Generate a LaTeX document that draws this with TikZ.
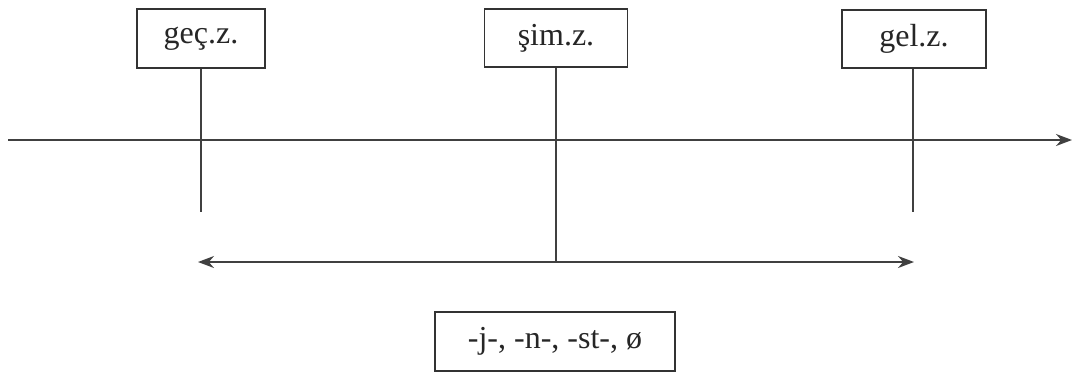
\documentclass[tikz,border=0pt]{standalone}
\usepackage{fontspec}
\setmainfont{Liberation Serif}
\usetikzlibrary{arrows.meta}
\begin{document}
\begin{tikzpicture}[x=1pt,y=-1pt,
  lbl/.style={draw=black!80, line width=1.6pt, inner sep=0pt, font=\fontsize{32}{34}\selectfont, text=black!85},
  ln/.style={draw=black!75, line width=1.8pt}]
\useasboundingbox (0,0) rectangle (1077,373);
\node[lbl, minimum width=128pt, minimum height=59pt] (past) at (201,38.5) {geç.z.};
\node[lbl, minimum width=143pt, minimum height=58pt] (pres) at (556,38) {şim.z.};
\node[lbl, minimum width=144pt, minimum height=58pt] (fut) at (914,39) {gel.z.};
\node[lbl, minimum width=240pt, minimum height=59pt] (suf) at (555,341.5) {-j-, -n-, -st-, ø};
\coordinate (L) at (8,140);
\coordinate (R) at (1072,140);
\draw[ln, -{Stealth[length=16pt,width=12pt]}] (L) -- (R);
\coordinate (pastEnd) at (201,212);
\coordinate (futEnd) at (913,212);
\coordinate (presEnd) at (556,262);
\coordinate (aL) at (198,262);
\coordinate (aR) at (914,262);
\draw[ln] (past.south) -- (pastEnd);
\draw[ln] (fut.south -| futEnd) -- (futEnd);
\draw[ln] (pres.south) -- (presEnd);
\draw[ln, {Stealth[length=16pt,width=12pt]}-{Stealth[length=16pt,width=12pt]}] (aL) -- (aR);
\end{tikzpicture}
\end{document}
